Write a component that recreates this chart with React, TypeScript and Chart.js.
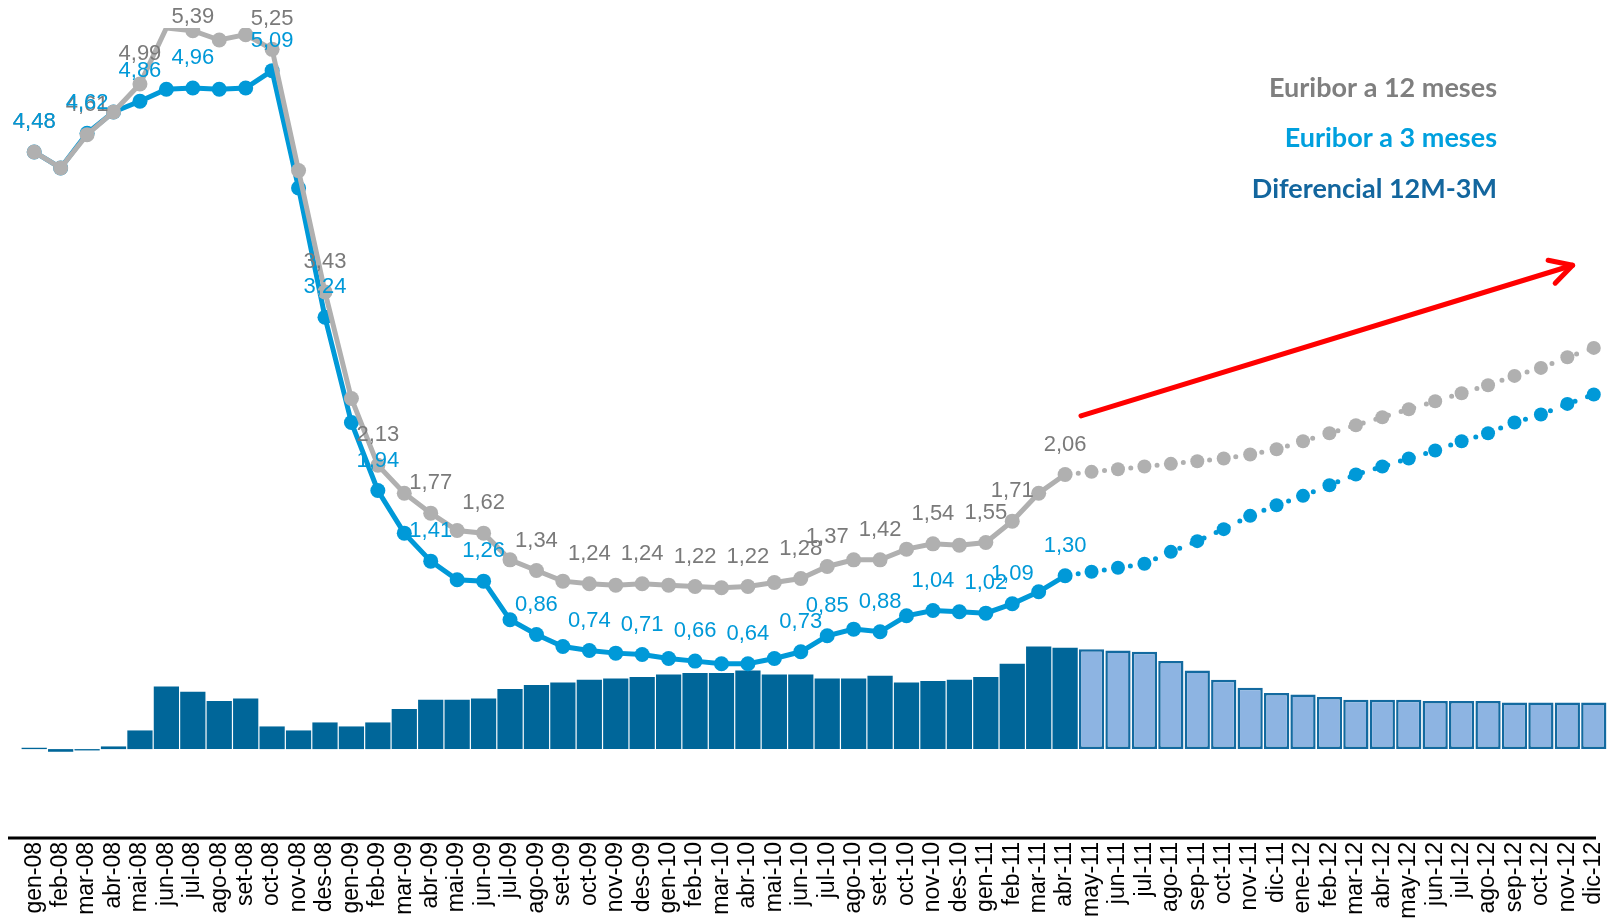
import React, { useEffect, useRef } from "react";
import { Chart, registerables } from "chart.js";

Chart.register(...registerables);

const months = [
  "gen-08", "feb-08", "mar-08", "abr-08", "mai-08", "jun-08", "jul-08", "ago-08", "set-08", "oct-08", "nov-08", "des-08",
  "gen-09", "feb-09", "mar-09", "abr-09", "mai-09", "jun-09", "jul-09", "ago-09", "set-09", "oct-09", "nov-09", "des-09",
  "gen-10", "feb-10", "mar-10", "abr-10", "mai-10", "jun-10", "jul-10", "ago-10", "set-10", "oct-10", "nov-10", "des-10",
  "gen-11", "feb-11", "mar-11", "abr-11", "may-11", "jun-11", "jul-11", "ago-11", "sep-11", "oct-11", "nov-11", "dic-11",
  "ene-12", "feb-12", "mar-12", "abr-12", "may-12", "jun-12", "jul-12", "ago-12", "sep-12", "oct-12", "nov-12", "dic-12",
];

// Euribor 12 months: observed (gen-08..abr-11) and forecast (may-11..dic-12)
const euribor12Hist = [
  4.48, 4.36, 4.61, 4.78, 4.99, 5.41, 5.39, 5.32, 5.36, 5.25, 4.34, 3.43,
  2.63, 2.13, 1.92, 1.77, 1.64, 1.62, 1.42, 1.34, 1.26, 1.24, 1.23, 1.24,
  1.23, 1.22, 1.21, 1.22, 1.25, 1.28, 1.37, 1.42, 1.42, 1.50, 1.54, 1.53,
  1.55, 1.71, 1.92, 2.06,
];
const euribor12Fcst = [
  2.08, 2.10, 2.12, 2.14, 2.16, 2.18, 2.21, 2.25, 2.31, 2.37, 2.43, 2.49,
  2.55, 2.61, 2.67, 2.73, 2.80, 2.86, 2.94, 3.01,
];

// Euribor 3 months
const euribor3Hist = [
  4.48, 4.36, 4.62, 4.78, 4.86, 4.95, 4.96, 4.95, 4.96, 5.09, 4.21, 3.24,
  2.45, 1.94, 1.62, 1.41, 1.27, 1.26, 0.97, 0.86, 0.77, 0.74, 0.72, 0.71,
  0.68, 0.66, 0.64, 0.64, 0.68, 0.73, 0.85, 0.90, 0.88, 1.00, 1.04, 1.03,
  1.02, 1.09, 1.18, 1.30,
];
const euribor3Fcst = [
  1.33, 1.36, 1.39, 1.48, 1.56, 1.65, 1.75, 1.83, 1.90, 1.98, 2.06, 2.12,
  2.18, 2.24, 2.31, 2.37, 2.45, 2.51, 2.59, 2.66,
];

// Differential 12M-3M (bars)
const diferencialHist = [
  0.01, -0.02, -0.01, 0.02, 0.14, 0.47, 0.43, 0.36, 0.38, 0.17, 0.14, 0.20,
  0.17, 0.20, 0.30, 0.37, 0.37, 0.38, 0.45, 0.48, 0.50, 0.52, 0.53, 0.54,
  0.56, 0.57, 0.57, 0.59, 0.56, 0.56, 0.53, 0.53, 0.55, 0.50, 0.51, 0.52,
  0.54, 0.64, 0.77, 0.76,
];
const diferencialFcst = [
  0.75, 0.74, 0.73, 0.66, 0.59, 0.52, 0.46, 0.42, 0.41, 0.39, 0.37, 0.37,
  0.37, 0.36, 0.36, 0.36, 0.35, 0.35, 0.35, 0.35,
];

// Indices of months that carry a data label
const labeledMonths = [0, 2, 4, 6, 9, 11, 13, 15, 17, 19, 21, 23, 25, 27, 29, 30, 32, 34, 36, 37, 39];

const legendTexts = ["Euribor a 12 meses", "Euribor a 3 meses", "Diferencial 12M-3M"];
const legendColors = ["#7F7F7F", "#00A0DE", "#13669E"];

// Trend arrow annotation (in data space: category index, value)
const arrowFrom = { x: 39.6, y: 2.5 };
const arrowTo = { x: 58.2, y: 3.63 };

const GRAY = "#B0B0B0";
const BLUE = "#0099D8";
const HIST_LEN = euribor12Hist.length;

const fmt = (v: number) => v.toFixed(2).replace(".", ",");

const extrasPlugin = {
  id: "extras",
  afterDatasetsDraw(chart: any) {
    const ctx = chart.ctx;
    const area = chart.chartArea;
    const xs = chart.scales.x;
    const ys = chart.scales.y;
    ctx.save();
    // data labels
    ctx.font = "22px 'Liberation Sans', Arial, sans-serif";
    ctx.textAlign = "center";
    ctx.textBaseline = "middle";
    const drawLabels = (dsIndex: number, color: string) => {
      const meta = chart.getDatasetMeta(dsIndex);
      const data = chart.data.datasets[dsIndex].data as number[];
      ctx.fillStyle = color;
      labeledMonths.forEach((i) => {
        const el = meta.data[i];
        if (!el) return;
        const y = Math.max(el.y - 30, 17);
        ctx.fillText(fmt(data[i]), el.x, y);
      });
    };
    drawLabels(0, "#7A7A7A");
    drawLabels(1, "#0099D8");

    // bottom axis line
    ctx.strokeStyle = "#000";
    ctx.lineWidth = 3;
    ctx.beginPath();
    ctx.moveTo(area.left - 13, area.bottom);
    ctx.lineTo(area.right - 11, area.bottom);
    ctx.stroke();

    // red trend arrow
    const x0 = xs.getPixelForValue(arrowFrom.x);
    const y0 = ys.getPixelForValue(arrowFrom.y);
    const x1 = xs.getPixelForValue(arrowTo.x);
    const y1 = ys.getPixelForValue(arrowTo.y);
    const ang = Math.atan2(y1 - y0, x1 - x0);
    ctx.strokeStyle = "#FF0000";
    ctx.lineWidth = 5;
    ctx.lineCap = "round";
    ctx.lineJoin = "round";
    ctx.beginPath();
    ctx.moveTo(x0, y0);
    ctx.lineTo(x1, y1);
    ctx.stroke();
    const head = 25;
    ctx.beginPath();
    ctx.moveTo(x1 + head * Math.cos(ang + Math.PI - 0.5), y1 + head * Math.sin(ang + Math.PI - 0.5));
    ctx.lineTo(x1, y1);
    ctx.lineTo(x1 + head * Math.cos(ang + Math.PI + 0.5), y1 + head * Math.sin(ang + Math.PI + 0.5));
    ctx.stroke();

    // legend
    ctx.font = "bold 27px Lato, 'Open Sans', sans-serif";
    ctx.textAlign = "right";
    ctx.textBaseline = "middle";
    const lx = area.right - 110;
    const lys = [88, 138, 189];
    legendTexts.forEach((t, i) => {
      ctx.fillStyle = legendColors[i];
      ctx.fillText(t, lx, lys[i]);
    });
    ctx.restore();
  },
};

export default function App() {
  const canvasRef = useRef<HTMLCanvasElement | null>(null);

  useEffect(() => {
    if (!canvasRef.current) return;
    const e12 = [...euribor12Hist, ...euribor12Fcst];
    const e3 = [...euribor3Hist, ...euribor3Fcst];
    const dif = [...diferencialHist, ...diferencialFcst];
    const dotted = (ctx: any) => (ctx.p0DataIndex >= HIST_LEN - 1 ? [0, 13.2] : undefined);
    const radius = (c: any) => (c.dataIndex < HIST_LEN ? 7.5 : 7);

    const chart = new Chart(canvasRef.current, {
      type: "bar",
      data: {
        labels: months,
        datasets: [
          {
            type: "line",
            label: "Euribor a 12 meses",
            data: e12,
            borderColor: GRAY,
            backgroundColor: GRAY,
            borderWidth: 5,
            borderCapStyle: "round",
            pointRadius: (c: any) => (c.dataIndex === 5 ? 0 : radius(c)),
            pointBorderWidth: 0,
            pointBackgroundColor: GRAY,
            tension: 0,
            order: 1,
            segment: { borderDash: dotted },
          } as any,
          {
            type: "line",
            label: "Euribor a 3 meses",
            data: e3,
            borderColor: BLUE,
            backgroundColor: BLUE,
            borderWidth: 5,
            borderCapStyle: "round",
            pointRadius: radius,
            pointBorderWidth: 0,
            pointBackgroundColor: BLUE,
            tension: 0,
            order: 2,
            segment: { borderDash: dotted },
          } as any,
          {
            type: "bar",
            label: "Diferencial 12M-3M",
            data: dif,
            backgroundColor: (c: any) => (c.dataIndex < HIST_LEN ? "#006699" : "#8DB4E2"),
            borderColor: (c: any) => (c.dataIndex < HIST_LEN ? "#006699" : "#136AA0"),
            borderWidth: (c: any) => (c.dataIndex < HIST_LEN ? 0 : 2.5),
            borderSkipped: false,
            barPercentage: 1,
            categoryPercentage: 0.955,
            order: 3,
          } as any,
        ],
      },
      options: {
        animation: false,
        responsive: true,
        maintainAspectRatio: false,
        events: [],
        layout: { padding: { left: 21, right: 9, top: 28, bottom: 0 } },
        plugins: {
          legend: { display: false },
          tooltip: { enabled: false },
          title: { display: false },
        },
        scales: {
          x: {
            type: "category",
            offset: true,
            grid: { display: false, drawTicks: false },
            border: { display: false },
            ticks: {
              autoSkip: false,
              maxRotation: 90,
              minRotation: 90,
              padding: 4,
              color: "#000",
              font: { family: "'Liberation Sans', Arial, sans-serif", size: 23 },
            },
            afterFit: (axis: any) => {
              axis.height = 83;
              axis.paddingLeft = 0;
              axis.paddingRight = 0;
            },
          },
          y: {
            display: false,
            min: -0.667,
            max: 5.41,
          },
        },
      } as any,
      plugins: [extrasPlugin],
    });
    return () => chart.destroy();
  }, []);

  return (
    <div style={{ position: "fixed", left: 0, top: 0, width: "100vw", height: "100vh", background: "#fff" }}>
      <canvas ref={canvasRef} />
    </div>
  );
}
